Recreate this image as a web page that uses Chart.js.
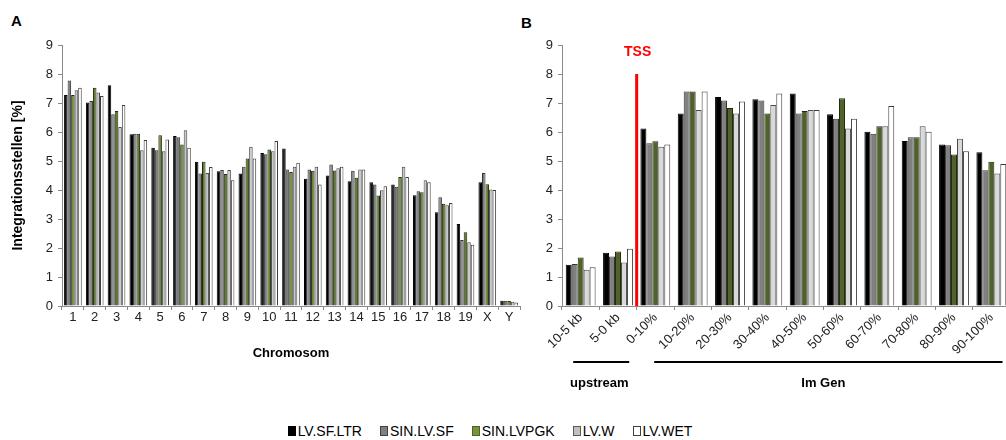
<!DOCTYPE html>
<html>
<head>
<meta charset="utf-8">
<script src="https://cdn.jsdelivr.net/npm/chart.js@4.4.0/dist/chart.umd.min.js"></script>
<style>
  body { margin: 0; width: 1006px; height: 440px; overflow: hidden; background: #fff; position: relative;
         font-family: "Liberation Sans", Arial, sans-serif; color: #000; }
  #chartA { position: absolute; left: 0; top: 0; }
  #chartB { position: absolute; left: 500px; top: 0; }
  .panel { position: absolute; font-weight: bold; font-size: 15px; }
  #legend { position: absolute; top: 423px; left: 0; width: 980px; display: flex; justify-content: center;
            font-size: 14px; line-height: 16px; }
  .item { display: flex; align-items: center; margin: 0 9px; }
  .mark { width: 6px; height: 8px; border: 1px solid #222; margin-right: 2px; }
</style>
</head>
<body>
<div class="panel" style="left:11px;top:12px">A</div>
<div class="panel" style="left:521px;top:14px">B</div>
<canvas id="chartA" width="530" height="370"></canvas>
<canvas id="chartB" width="520" height="400"></canvas>
<div id="legend"></div>

<script>
// Serien
const seriesNames = ['LV.SF.LTR', 'SIN.LV.SF', 'SIN.LVPGK', 'LV.W', 'LV.WET'];

// Panel A: Chromosomen
const chromLabels = ['1', '2', '3', '4', '5', '6', '7', '8', '9', '10', '11', '12', '13', '14', '15', '16', '17', '18', '19', 'X', 'Y'];
const ltrA   = [7.28, 7.02, 7.61, 5.92, 5.46, 5.86, 4.97, 4.65, 4.57, 5.28, 5.43, 4.39, 4.50, 4.30, 4.27, 4.19, 3.82, 3.23, 2.83, 4.27, 0.18];
const sinSfA = [7.78, 7.07, 6.61, 5.94, 5.37, 5.82, 4.57, 4.69, 4.80, 5.23, 4.71, 4.71, 4.88, 4.66, 4.19, 4.11, 3.96, 3.75, 2.28, 4.59, 0.18];
const pgkA   = [7.28, 7.53, 6.72, 5.94, 5.89, 5.57, 4.97, 4.55, 5.09, 5.40, 4.62, 4.66, 4.67, 4.42, 3.81, 4.45, 3.92, 3.53, 2.54, 4.20, 0.17];
const wA     = [7.44, 7.36, 6.17, 5.37, 5.34, 6.06, 4.59, 4.69, 5.49, 5.34, 4.80, 4.80, 4.75, 4.71, 3.99, 4.80, 4.34, 3.47, 2.20, 4.02, 0.15];
const wetA   = [7.53, 7.24, 6.93, 5.72, 5.74, 5.46, 4.79, 4.34, 5.09, 5.69, 4.94, 4.19, 4.80, 4.71, 4.13, 4.45, 4.27, 3.55, 2.11, 4.00, 0.12];

// Panel B: Position relativ zur TSS
const regionLabels = ['10-5 kb', '5-0 kb', '0-10%', '10-20%', '20-30%', '30-40%', '40-50%', '50-60%', '60-70%', '70-80%', '80-90%', '90-100%'];
const ltrB   = [1.42, 1.84, 6.12, 6.64, 7.21, 7.13, 7.33, 6.61, 6.01, 5.69, 5.57, 5.30];
const sinSfB = [1.45, 1.71, 5.61, 7.40, 7.09, 7.09, 6.64, 6.46, 5.94, 5.82, 5.54, 4.68];
const pgkB   = [1.67, 1.88, 5.68, 7.40, 6.83, 6.64, 6.72, 7.16, 6.20, 5.82, 5.22, 4.97];
const wB     = [1.25, 1.50, 5.49, 6.76, 6.64, 6.93, 6.76, 6.12, 6.20, 6.20, 5.77, 4.57];
const wetB   = [1.34, 1.97, 5.57, 7.40, 7.05, 7.33, 6.76, 6.46, 6.90, 6.01, 5.34, 4.90];

const yTicks = [0, 1, 2, 3, 4, 5, 6, 7, 8, 9];
const tssTop = 8;
const groups = [
  { text: 'upstream', from: 0, to: 1 },
  { text: 'Im Gen', from: 2, to: 11 },
];

const FONT = '"Liberation Sans", Arial, sans-serif';
const fillA = ['#000000', '#7f7f7f', '#5f7f2c', '#c8c8c8', '#ffffff'];
const fillB = ['#000000', '#808080', '#4f6228', '#d9d9d9', '#ffffff'];
const borders = ['#000000', '#333333', '#1f2a10', '#4a4a4a', '#3a3a3a'];
const legendFill = ['#000000', '#808080', '#77933c', '#c0c0c0', '#ffffff'];
const legendBorder = ['#000000', '#404040', '#4f6228', '#595959', '#404040'];

Chart.defaults.font.family = FONT;
Chart.defaults.color = '#222';

function makeSets(values, fills, catPct) {
  return values.map((data, i) => ({
    label: seriesNames[i],
    data: data,
    backgroundColor: fills[i],
    borderColor: borders[i],
    borderWidth: 1,
    barPercentage: 1.0,
    categoryPercentage: catPct,
  }));
}

function yScale(width, title) {
  return {
    min: 0, max: 9,
    afterBuildTicks: (s) => { s.ticks = yTicks.map((v) => ({ value: v })); },
    afterFit: (s) => { s.width = width; },
    ticks: { font: { size: 13 }, padding: 5, color: '#222' },
    grid: { drawOnChartArea: false, tickLength: 4, color: '#8a8a8a' },
    border: { color: '#8a8a8a' },
    title: title ? { display: true, text: title, font: { size: 14, weight: 'bold' }, color: '#000', padding: { top: 10 } } : { display: false },
  };
}

// Panel A
new Chart(document.getElementById('chartA'), {
  type: 'bar',
  data: { labels: chromLabels, datasets: makeSets([ltrA, sinSfA, pgkA, wA, wetA], fillA, 0.81) },
  options: {
    responsive: false, animation: false, devicePixelRatio: 1,
    layout: { padding: { top: 45, right: 10, left: 0, bottom: 0 } },
    plugins: { legend: { display: false }, tooltip: { enabled: false } },
    scales: {
      x: {
        afterFit: (s) => { s.height = 64; },
        ticks: { font: { size: 13 }, padding: 0, color: '#222', maxRotation: 0, autoSkip: false },
        grid: { drawOnChartArea: false, tickLength: 4, color: '#8a8a8a' },
        border: { color: '#8a8a8a' },
        title: { display: true, text: 'Chromosom', font: { size: 13, weight: 'bold' }, color: '#000', padding: { top: 0, bottom: 9 } },
      },
      y: yScale(62, 'Integrationsstellen [%]'),
    },
  },
});

// TSS-Linie und Gruppenbeschriftung
const tssPlugin = {
  id: 'tssPlugin',
  afterDatasetsDraw(chart) {
    const { ctx, scales: { x, y } } = chart;
    const xPos = (x.getPixelForValue(1) + x.getPixelForValue(2)) / 2;
    ctx.save();
    ctx.strokeStyle = '#ff0000';
    ctx.lineWidth = 3;
    ctx.beginPath();
    ctx.moveTo(xPos, y.getPixelForValue(tssTop));
    ctx.lineTo(xPos, y.getPixelForValue(0));
    ctx.stroke();
    ctx.fillStyle = '#ff0000';
    ctx.font = 'bold 14px ' + FONT;
    ctx.textAlign = 'center';
    ctx.textBaseline = 'middle';
    ctx.fillText('TSS', xPos + 1, y.getPixelForValue(8.75));
    ctx.restore();
  },
  afterDraw(chart) {
    const { ctx, scales: { x } } = chart;
    const w = x.getPixelForValue(1) - x.getPixelForValue(0);
    ctx.save();
    ctx.strokeStyle = '#000';
    ctx.lineWidth = 2;
    ctx.fillStyle = '#000';
    ctx.font = 'bold 13px ' + FONT;
    ctx.textAlign = 'center';
    ctx.textBaseline = 'middle';
    groups.forEach((g, i) => {
      const x0 = x.getPixelForValue(g.from) - (i === 0 ? 0.2 : 0.03) * w;
      const x1 = x.getPixelForValue(g.to) + 0.3 * w;
      ctx.beginPath();
      ctx.moveTo(x0, 362);
      ctx.lineTo(x1, 362);
      ctx.stroke();
      ctx.fillText(g.text, (x.getPixelForValue(g.from) + x.getPixelForValue(g.to)) / 2, 383);
    });
    ctx.restore();
  },
};

// Panel B
new Chart(document.getElementById('chartB'), {
  type: 'bar',
  data: { labels: regionLabels, datasets: makeSets([ltrB, sinSfB, pgkB, wB, wetB], fillB, 0.8) },
  options: {
    responsive: false, animation: false, devicePixelRatio: 1,
    layout: { padding: { top: 45, right: 10, left: 0, bottom: 0 } },
    plugins: { legend: { display: false }, tooltip: { enabled: false } },
    scales: {
      x: {
        afterFit: (s) => { s.height = 94; },
        ticks: { font: { size: 13 }, padding: 0, color: '#222', minRotation: 45, maxRotation: 45, autoSkip: false },
        grid: { drawOnChartArea: false, tickLength: 4, color: '#8a8a8a' },
        border: { color: '#8a8a8a' },
      },
      y: yScale(62, null),
    },
  },
  plugins: [tssPlugin],
});

// Legende
const legend = document.getElementById('legend');
seriesNames.forEach((name, i) => {
  const item = document.createElement('div');
  item.className = 'item';
  const mark = document.createElement('span');
  mark.className = 'mark';
  mark.style.background = legendFill[i];
  mark.style.borderColor = legendBorder[i];
  const txt = document.createElement('span');
  txt.textContent = name;
  item.appendChild(mark);
  item.appendChild(txt);
  legend.appendChild(item);
});
</script>
</body>
</html>
